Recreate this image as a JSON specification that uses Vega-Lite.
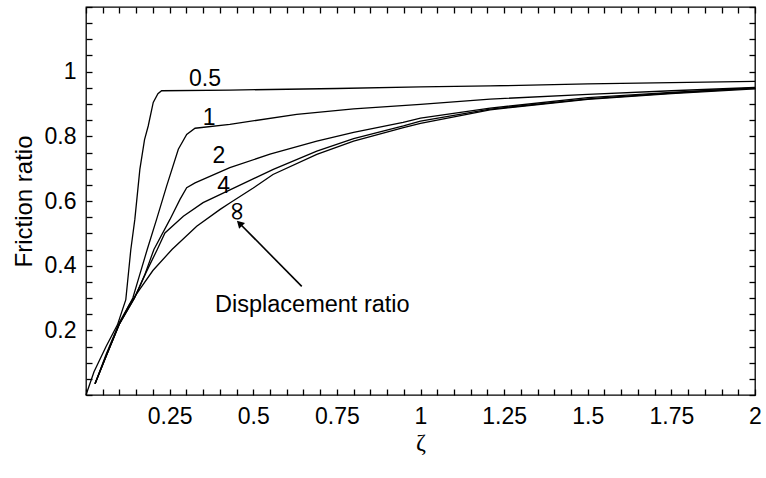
{
  "$schema": "https://vega.github.io/schema/vega-lite/v6.json",
  "width": 669,
  "height": 388,
  "autosize": {"type": "none"},
  "padding": {"left": 86, "top": 7, "right": 11, "bottom": 83},
  "background": "white",
  "config": {
    "view": {"stroke": "black", "strokeWidth": 1.3},
    "axis": {
      "grid": false,
      "domain": false,
      "ticks": true,
      "tickColor": "black",
      "tickWidth": 1.3,
      "tickSize": 6,
      "labelColor": "black",
      "labelFont": "Liberation Sans",
      "labelFontSize": 23,
      "labelOverlap": false,
      "labelFlush": false,
      "titleColor": "black",
      "titleFont": "Liberation Sans",
      "titleFontWeight": "normal",
      "titleFontSize": 24
    }
  },
  "datasets": {
    "curves": [
      {"ratio": "0.5", "zeta": 0, "friction": 0},
      {"ratio": "0.5", "zeta": 0.024, "friction": 0.072},
      {"ratio": "0.5", "zeta": 0.06, "friction": 0.15},
      {"ratio": "0.5", "zeta": 0.094, "friction": 0.217},
      {"ratio": "0.5", "zeta": 0.119, "friction": 0.295},
      {"ratio": "0.5", "zeta": 0.134, "friction": 0.45},
      {"ratio": "0.5", "zeta": 0.146, "friction": 0.543},
      {"ratio": "0.5", "zeta": 0.161, "friction": 0.698},
      {"ratio": "0.5", "zeta": 0.175, "friction": 0.79},
      {"ratio": "0.5", "zeta": 0.186, "friction": 0.832},
      {"ratio": "0.5", "zeta": 0.201, "friction": 0.905},
      {"ratio": "0.5", "zeta": 0.215, "friction": 0.932},
      {"ratio": "0.5", "zeta": 0.226, "friction": 0.941},
      {"ratio": "0.5", "zeta": 0.43, "friction": 0.943},
      {"ratio": "0.5", "zeta": 0.75, "friction": 0.948},
      {"ratio": "0.5", "zeta": 1.0, "friction": 0.953},
      {"ratio": "0.5", "zeta": 1.208, "friction": 0.956},
      {"ratio": "0.5", "zeta": 1.5, "friction": 0.962},
      {"ratio": "0.5", "zeta": 2.0, "friction": 0.97},

      {"ratio": "1", "zeta": 0.027, "friction": 0.035},
      {"ratio": "1", "zeta": 0.06, "friction": 0.12},
      {"ratio": "1", "zeta": 0.1, "friction": 0.22},
      {"ratio": "1", "zeta": 0.14, "friction": 0.3},
      {"ratio": "1", "zeta": 0.16, "friction": 0.37},
      {"ratio": "1", "zeta": 0.183, "friction": 0.45},
      {"ratio": "1", "zeta": 0.211, "friction": 0.543},
      {"ratio": "1", "zeta": 0.241, "friction": 0.646},
      {"ratio": "1", "zeta": 0.276, "friction": 0.76},
      {"ratio": "1", "zeta": 0.301, "friction": 0.806},
      {"ratio": "1", "zeta": 0.326, "friction": 0.825},
      {"ratio": "1", "zeta": 0.43, "friction": 0.837},
      {"ratio": "1", "zeta": 0.63, "friction": 0.868},
      {"ratio": "1", "zeta": 0.8, "friction": 0.885},
      {"ratio": "1", "zeta": 1.0, "friction": 0.899},
      {"ratio": "1", "zeta": 1.208, "friction": 0.915},
      {"ratio": "1", "zeta": 1.5, "friction": 0.93},
      {"ratio": "1", "zeta": 1.75, "friction": 0.941},
      {"ratio": "1", "zeta": 2.0, "friction": 0.951},

      {"ratio": "2", "zeta": 0.027, "friction": 0.035},
      {"ratio": "2", "zeta": 0.06, "friction": 0.12},
      {"ratio": "2", "zeta": 0.1, "friction": 0.22},
      {"ratio": "2", "zeta": 0.145, "friction": 0.3},
      {"ratio": "2", "zeta": 0.175, "friction": 0.37},
      {"ratio": "2", "zeta": 0.203, "friction": 0.45},
      {"ratio": "2", "zeta": 0.251, "friction": 0.543},
      {"ratio": "2", "zeta": 0.281, "friction": 0.605},
      {"ratio": "2", "zeta": 0.301, "friction": 0.641},
      {"ratio": "2", "zeta": 0.326, "friction": 0.656},
      {"ratio": "2", "zeta": 0.43, "friction": 0.703},
      {"ratio": "2", "zeta": 0.55, "friction": 0.745},
      {"ratio": "2", "zeta": 0.69, "friction": 0.785},
      {"ratio": "2", "zeta": 0.8, "friction": 0.812},
      {"ratio": "2", "zeta": 0.948, "friction": 0.843},
      {"ratio": "2", "zeta": 1.0, "friction": 0.856},
      {"ratio": "2", "zeta": 1.208, "friction": 0.887},
      {"ratio": "2", "zeta": 1.5, "friction": 0.92},
      {"ratio": "2", "zeta": 1.75, "friction": 0.936},
      {"ratio": "2", "zeta": 2.0, "friction": 0.95},

      {"ratio": "4", "zeta": 0.027, "friction": 0.035},
      {"ratio": "4", "zeta": 0.06, "friction": 0.12},
      {"ratio": "4", "zeta": 0.1, "friction": 0.22},
      {"ratio": "4", "zeta": 0.145, "friction": 0.3},
      {"ratio": "4", "zeta": 0.18, "friction": 0.38},
      {"ratio": "4", "zeta": 0.213, "friction": 0.45},
      {"ratio": "4", "zeta": 0.236, "friction": 0.501},
      {"ratio": "4", "zeta": 0.291, "friction": 0.553},
      {"ratio": "4", "zeta": 0.35, "friction": 0.595},
      {"ratio": "4", "zeta": 0.421, "friction": 0.63},
      {"ratio": "4", "zeta": 0.56, "friction": 0.698},
      {"ratio": "4", "zeta": 0.69, "friction": 0.754},
      {"ratio": "4", "zeta": 0.8, "friction": 0.793},
      {"ratio": "4", "zeta": 0.949, "friction": 0.832},
      {"ratio": "4", "zeta": 1.0, "friction": 0.847},
      {"ratio": "4", "zeta": 1.208, "friction": 0.884},
      {"ratio": "4", "zeta": 1.5, "friction": 0.916},
      {"ratio": "4", "zeta": 1.75, "friction": 0.934},
      {"ratio": "4", "zeta": 2.0, "friction": 0.949},

      {"ratio": "inf", "zeta": 0.027, "friction": 0.035},
      {"ratio": "inf", "zeta": 0.06, "friction": 0.125},
      {"ratio": "inf", "zeta": 0.1, "friction": 0.225},
      {"ratio": "inf", "zeta": 0.13, "friction": 0.28},
      {"ratio": "inf", "zeta": 0.16, "friction": 0.326},
      {"ratio": "inf", "zeta": 0.2, "friction": 0.385},
      {"ratio": "inf", "zeta": 0.257, "friction": 0.45},
      {"ratio": "inf", "zeta": 0.331, "friction": 0.522},
      {"ratio": "inf", "zeta": 0.401, "friction": 0.574},
      {"ratio": "inf", "zeta": 0.43, "friction": 0.594},
      {"ratio": "inf", "zeta": 0.5, "friction": 0.64},
      {"ratio": "inf", "zeta": 0.559, "friction": 0.682},
      {"ratio": "inf", "zeta": 0.69, "friction": 0.744},
      {"ratio": "inf", "zeta": 0.8, "friction": 0.785},
      {"ratio": "inf", "zeta": 0.949, "friction": 0.827},
      {"ratio": "inf", "zeta": 1.0, "friction": 0.84},
      {"ratio": "inf", "zeta": 1.208, "friction": 0.882},
      {"ratio": "inf", "zeta": 1.5, "friction": 0.914},
      {"ratio": "inf", "zeta": 1.75, "friction": 0.932},
      {"ratio": "inf", "zeta": 2.0, "friction": 0.947}
    ],
    "labels": [
      {"zeta": 0.3558, "friction": 0.956, "text": "0.5"},
      {"zeta": 0.368, "friction": 0.834, "text": "1"},
      {"zeta": 0.397, "friction": 0.7184, "text": "2"},
      {"zeta": 0.4116, "friction": 0.6253, "text": "4"}
    ],
    "infinity": [
      {"zeta": 0.4517, "friction": 0.5684, "text": "∞"}
    ],
    "note": [
      {"zeta": 0.3857, "friction": 0.258, "text": "Displacement ratio"}
    ],
    "arrow": [
      {"zeta": 0.645, "friction": 0.336, "zeta2": 0.458, "friction2": 0.532}
    ],
    "head": [
      {"zeta": 0.4589, "friction": 0.5309}
    ]
  },
  "layer": [
    {
      "data": {"name": "curves"},
      "mark": {"type": "line", "color": "black", "strokeWidth": 1.3},
      "encoding": {
        "x": {
          "field": "zeta", "type": "quantitative",
          "scale": {"domain": [0, 2], "nice": false, "zero": false},
          "axis": {
            "orient": "bottom",
            "offset": -6,
            "title": "ζ",
            "titleFont": "Liberation Serif",
            "titlePadding": 2,
            "values": [0,0.05,0.1,0.15,0.2,0.25,0.3,0.35,0.4,0.45,0.5,0.55,0.6,0.65,0.7,0.75,0.8,0.85,0.9,0.95,1,1.05,1.1,1.15,1.2,1.25,1.3,1.35,1.4,1.45,1.5,1.55,1.6,1.65,1.7,1.75,1.8,1.85,1.9,1.95,2],
            "format": ".2~f",
            "labelPadding": 10,
            "labelExpr": "datum.value > 0.01 && abs(datum.value*4 - round(datum.value*4)) < 0.001 ? datum.label : ''"
          }
        },
        "y": {
          "field": "friction", "type": "quantitative",
          "scale": {"domain": [0, 1.2], "nice": false},
          "axis": {
            "orient": "left",
            "offset": -6,
            "title": "Friction ratio",
            "titlePadding": 8,
            "values": [0,0.05,0.1,0.15,0.2,0.25,0.3,0.35,0.4,0.45,0.5,0.55,0.6,0.65,0.7,0.75,0.8,0.85,0.9,0.95,1,1.05,1.1,1.15,1.2],
            "format": ".2~f",
            "labelPadding": 10,
            "labelExpr": "datum.value > 0.01 && datum.value < 1.01 && abs(datum.value*5 - round(datum.value*5)) < 0.001 ? datum.label : ''"
          }
        },
        "detail": {"field": "ratio", "type": "nominal"}
      }
    },
    {
      "data": {"name": "arrow"},
      "mark": {"type": "rule", "color": "black", "strokeWidth": 1.6},
      "encoding": {
        "x": {
          "field": "zeta", "type": "quantitative",
          "axis": {
            "orient": "top", "offset": -6, "title": null, "labels": false,
            "values": [0,0.05,0.1,0.15,0.2,0.25,0.3,0.35,0.4,0.45,0.5,0.55,0.6,0.65,0.7,0.75,0.8,0.85,0.9,0.95,1,1.05,1.1,1.15,1.2,1.25,1.3,1.35,1.4,1.45,1.5,1.55,1.6,1.65,1.7,1.75,1.8,1.85,1.9,1.95,2]
          }
        },
        "y": {
          "field": "friction", "type": "quantitative",
          "axis": {
            "orient": "right", "offset": -6, "title": null, "labels": false,
            "values": [0,0.05,0.1,0.15,0.2,0.25,0.3,0.35,0.4,0.45,0.5,0.55,0.6,0.65,0.7,0.75,0.8,0.85,0.9,0.95,1,1.05,1.1,1.15,1.2]
          }
        },
        "x2": {"field": "zeta2"},
        "y2": {"field": "friction2"}
      }
    },
    {
      "layer": [
        {
          "data": {"name": "head"},
          "mark": {"type": "point", "shape": "triangle-up", "filled": true, "color": "black", "opacity": 1, "size": 70, "angle": 315},
          "encoding": {
            "x": {"field": "zeta", "type": "quantitative", "axis": null},
            "y": {"field": "friction", "type": "quantitative", "axis": null}
          }
        },
        {
          "data": {"name": "labels"},
          "mark": {"type": "text", "font": "Liberation Sans", "fontSize": 23, "color": "black", "align": "center", "baseline": "alphabetic"},
          "encoding": {
            "x": {"field": "zeta", "type": "quantitative", "axis": null},
            "y": {"field": "friction", "type": "quantitative", "axis": null},
            "text": {"field": "text"}
          }
        },
        {
          "data": {"name": "infinity"},
          "mark": {"type": "text", "font": "DejaVu Sans", "fontSize": 27, "color": "black", "align": "center", "baseline": "middle", "angle": 90},
          "encoding": {
            "x": {"field": "zeta", "type": "quantitative", "axis": null},
            "y": {"field": "friction", "type": "quantitative", "axis": null},
            "text": {"field": "text"}
          }
        },
        {
          "data": {"name": "note"},
          "mark": {"type": "text", "font": "Liberation Sans", "fontSize": 23.5, "color": "black", "align": "left", "baseline": "alphabetic"},
          "encoding": {
            "x": {"field": "zeta", "type": "quantitative", "axis": null},
            "y": {"field": "friction", "type": "quantitative", "axis": null},
            "text": {"field": "text"}
          }
        }
      ]
    }
  ],
  "resolve": {"axis": {"x": "independent", "y": "independent"}}
}
